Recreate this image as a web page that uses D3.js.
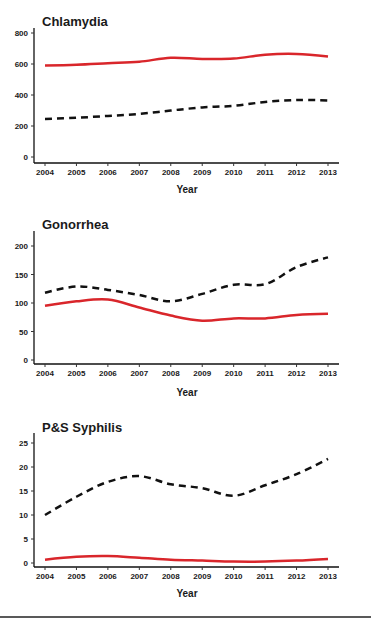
<!DOCTYPE html>
<html>
<head>
<meta charset="utf-8">
<script src="https://cdn.jsdelivr.net/npm/d3@7"></script>
<style>
  body { margin: 0; background: #fff; }
  text { font-family: "Liberation Sans", Arial, sans-serif; fill: #1a1a1a; }
</style>
</head>
<body>
<div class="chart"></div>
<script>
const years = [2004, 2005, 2006, 2007, 2008, 2009, 2010, 2011, 2012, 2013]

const chlamydiaRed = [590, 595, 605, 615, 640, 633, 635, 660, 665, 648]
const chlamydiaBlack = [245, 253, 265, 278, 300, 320, 330, 355, 368, 365]
const chlamydiaTicks = [0, 200, 400, 600, 800]

const gonorrheaRed = [95, 103, 106, 92, 78, 69, 73, 73, 79, 81]
const gonorrheaBlack = [118, 129, 123, 114, 103, 116, 132, 133, 163, 180]
const gonorrheaTicks = [0, 50, 100, 150, 200]

const syphilisRed = [0.7, 1.3, 1.45, 1.1, 0.7, 0.5, 0.3, 0.3, 0.5, 0.85]
const syphilisBlack = [10, 13.8, 16.9, 18.1, 16.4, 15.6, 14, 16.2, 18.5, 21.7]
const syphilisTicks = [0, 5, 10, 15, 20, 25]

const titles = ["Chlamydia", "Gonorrhea", "P&S Syphilis"]

const width = 371, height = 618
const svg = d3.select(".chart").append("svg").attr("width", width).attr("height", height)

const panels = [
  { title: titles[0], red: chlamydiaRed, black: chlamydiaBlack, ticks: chlamydiaTicks, max: 800, top: 0 },
  { title: titles[1], red: gonorrheaRed, black: gonorrheaBlack, ticks: gonorrheaTicks, max: 200, top: 203 },
  { title: titles[2], red: syphilisRed, black: syphilisBlack, ticks: syphilisTicks, max: 25, top: 406 }
]

// per panel pixel layout (relative to panel top)
const layout = [
  { y0: 157, y1: 33, axTop: 28, axBottom: 163, titleY: 26, yearY: 193 },
  { y0: 157, y1: 43, axTop: 28, axBottom: 161, titleY: 26, yearY: 193 },
  { y0: 157, y1: 37, axTop: 27, axBottom: 161, titleY: 26, yearY: 191 }
]

const xScale = d3.scalePoint().domain(years).range([45, 328])

panels.forEach((p, i) => {
  const L = layout[i]
  const g = svg.append("g").attr("transform", `translate(0, ${p.top})`)
  const yScale = d3.scaleLinear().domain([0, p.max]).range([L.y0, L.y1])

  g.append("text").attr("x", 42).attr("y", L.titleY)
    .attr("font-size", 13).attr("font-weight", "bold").attr("fill", "#111").text(p.title)

  // axes lines
  g.append("line").attr("x1", 34).attr("x2", 34).attr("y1", L.axTop).attr("y2", L.axBottom)
    .attr("stroke", "#111").attr("stroke-width", 1.3)
  g.append("line").attr("x1", 34).attr("x2", 339).attr("y1", L.axBottom).attr("y2", L.axBottom)
    .attr("stroke", "#111").attr("stroke-width", 1.3)

  // y ticks
  p.ticks.forEach(t => {
    g.append("line").attr("x1", 31).attr("x2", 34).attr("y1", yScale(t)).attr("y2", yScale(t))
      .attr("stroke", "#333").attr("stroke-width", 1)
    g.append("text").attr("x", 28).attr("y", yScale(t) + 3).attr("text-anchor", "end")
      .attr("font-size", 8).attr("font-weight", "bold").text(t)
  })

  // x ticks
  years.forEach(yr => {
    g.append("line").attr("x1", xScale(yr)).attr("x2", xScale(yr))
      .attr("y1", L.axBottom).attr("y2", L.axBottom + 3).attr("stroke", "#333").attr("stroke-width", 1)
    g.append("text").attr("x", xScale(yr)).attr("y", L.axBottom + 12).attr("text-anchor", "middle")
      .attr("font-size", 8).attr("font-weight", "bold").text(yr)
  })

  g.append("text").attr("x", 187).attr("y", L.yearY).attr("text-anchor", "middle")
    .attr("font-size", 10).attr("font-weight", "bold").attr("fill", "#333").text("Year")

  const line = d3.line().x((d, j) => xScale(years[j])).y(d => yScale(d)).curve(d3.curveCatmullRom.alpha(0.5))

  g.append("path").datum(p.black).attr("d", line).attr("fill", "none")
    .attr("stroke", "#111").attr("stroke-width", 2.5).attr("stroke-dasharray", "7,5")
  g.append("path").datum(p.red).attr("d", line).attr("fill", "none")
    .attr("stroke", "#d9262b").attr("stroke-width", 2.5)
})

svg.append("line").attr("x1", 0).attr("x2", width).attr("y1", 617).attr("y2", 617)
  .attr("stroke", "#222").attr("stroke-width", 1.5)
</script>
</body>
</html>
